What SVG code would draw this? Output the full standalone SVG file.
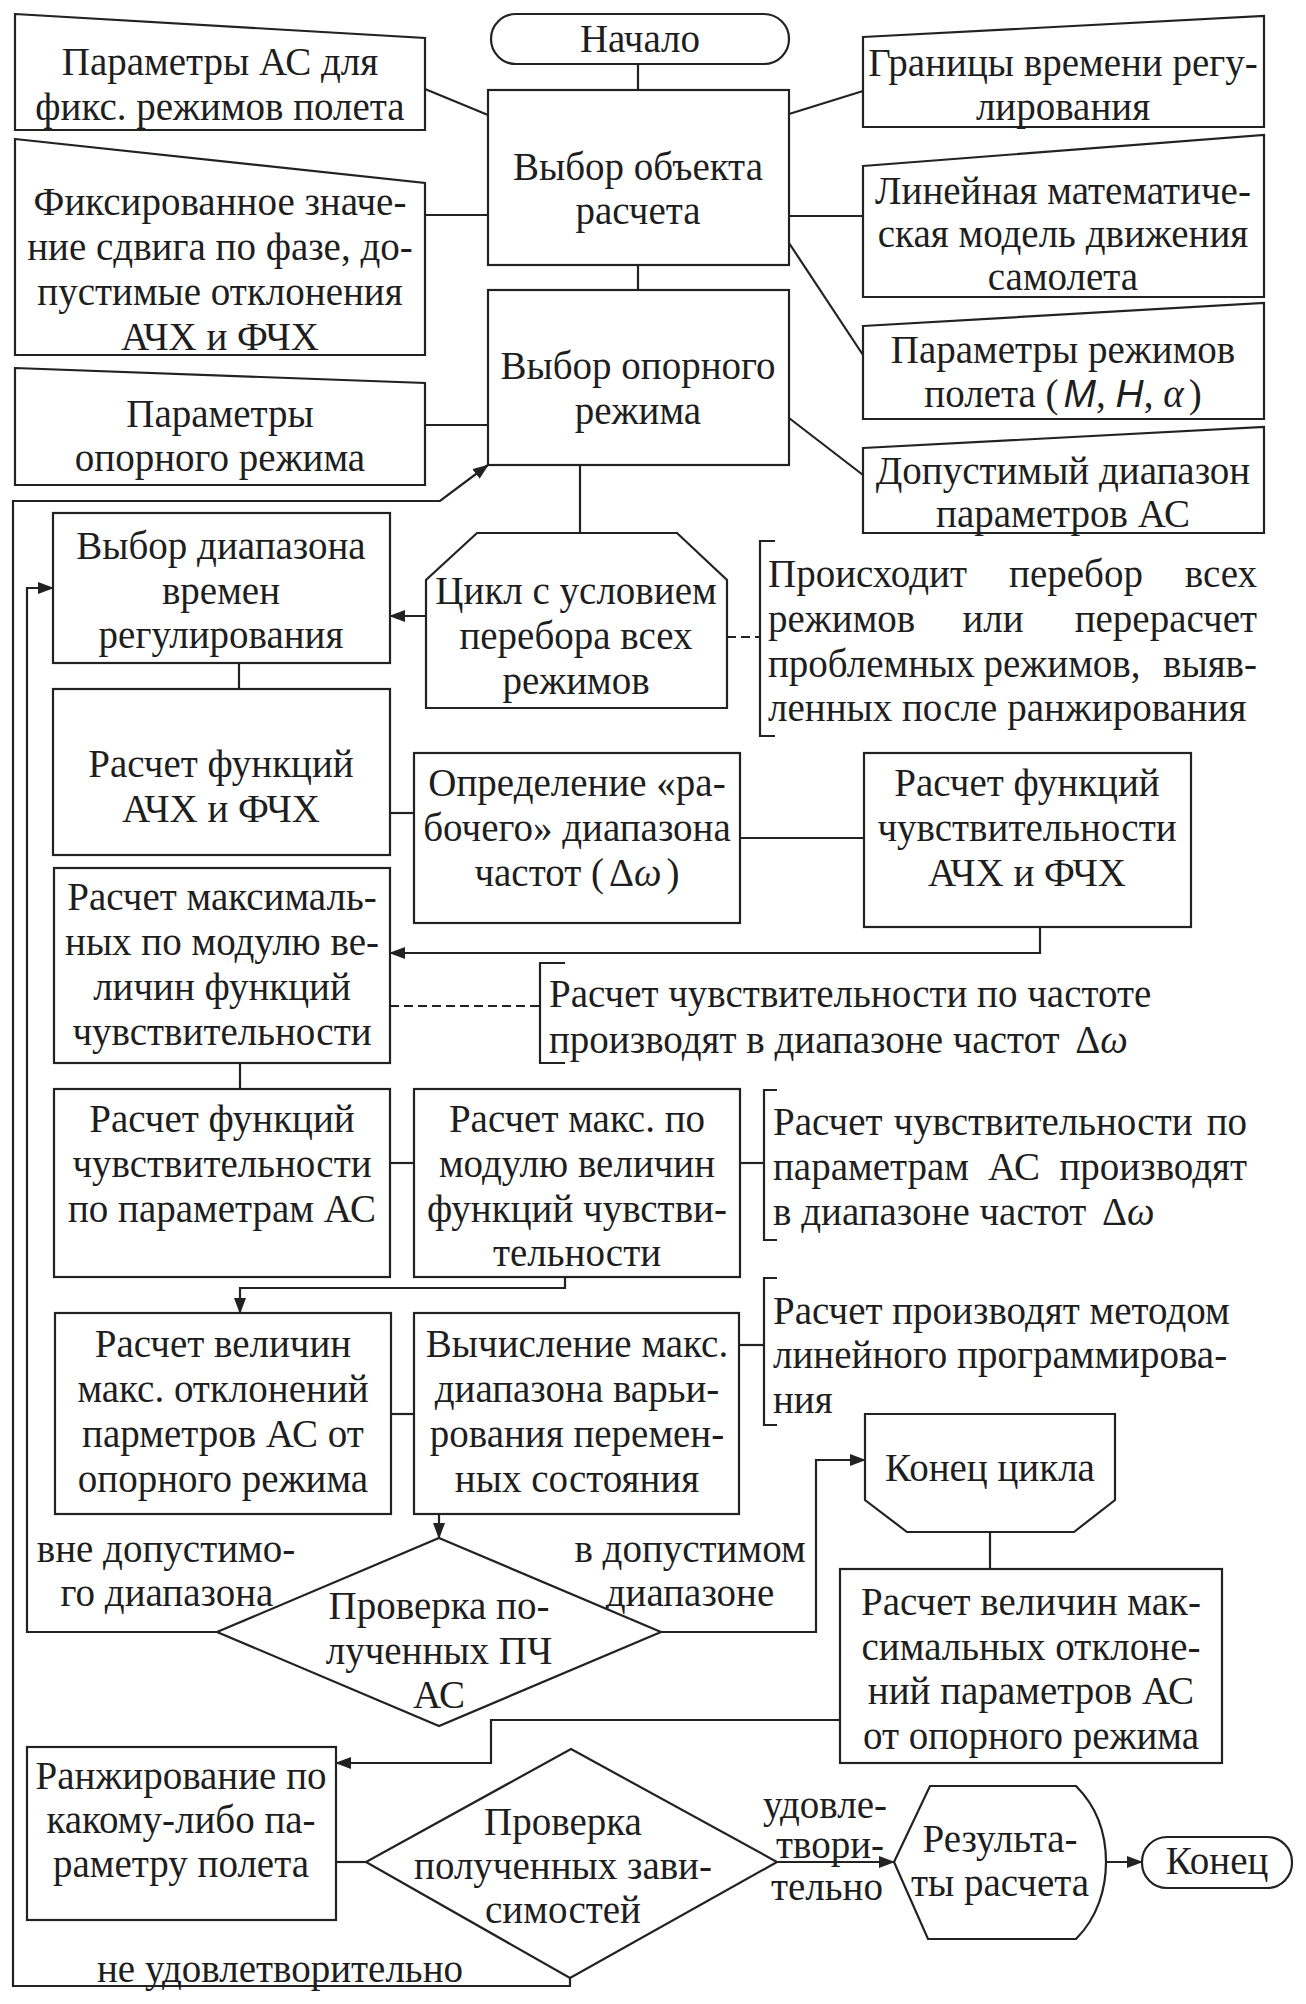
<svg xmlns="http://www.w3.org/2000/svg" width="1306" height="2004" viewBox="0 0 1306 2004">
<defs>
<style>
.t{font-family:"Liberation Serif","Times New Roman",serif;font-size:39px;fill:#1e1e1e;text-anchor:middle;dominant-baseline:central}
.l{text-anchor:start}
.e{text-anchor:end}
.s{fill:#fff;stroke:#222;stroke-width:2.2}
.c{fill:none;stroke:#222;stroke-width:2.2}
.d{fill:none;stroke:#222;stroke-width:2.2;stroke-dasharray:9 5}
.i{font-style:italic}
.m{font-family:"Liberation Sans","DejaVu Sans",sans-serif;font-style:italic}
</style>
<marker id="a" markerWidth="16" markerHeight="12" refX="15" refY="6" orient="auto" markerUnits="userSpaceOnUse">
<path d="M0,0 L16,6 L0,12 Z" fill="#222"/>
</marker>
</defs>
<rect width="1306" height="2004" fill="#fff"/>

<g id="connectors">
<path class="c" d="M638,64 V90"/>
<path class="c" d="M638,265 V290"/>
<path class="c" d="M425,89 L488,115"/>
<path class="c" d="M425,215 H488"/>
<path class="c" d="M425,425 H488"/>
<path class="c" d="M789,114 L863,91"/>
<path class="c" d="M789,216 H863"/>
<path class="c" d="M789,243 L863,355"/>
<path class="c" d="M789,418 L863,475"/>
<path class="c" d="M580,465 V533"/>
<path class="c" d="M426,616 H390" marker-end="url(#a)"/>
<path class="d" d="M727,637 H760"/>
<path class="c" d="M239,663 V689"/>
<path class="c" d="M390,813 H414"/>
<path class="c" d="M740,838 H864"/>
<path class="c" d="M1040,927 V953 H390" marker-end="url(#a)"/>
<path class="d" d="M390,1006 H540"/>
<path class="c" d="M240,1063 V1089"/>
<path class="c" d="M390,1163 H414"/>
<path class="c" d="M740,1163 H764"/>
<path class="c" d="M565,1277 V1288 H240 V1313" marker-end="url(#a)"/>
<path class="c" d="M391,1414 H414"/>
<path class="c" d="M739,1345 H764"/>
<path class="c" d="M439,1514 V1538" marker-end="url(#a)"/>
<path class="c" d="M217,1632 H27 V588 H53" marker-end="url(#a)"/>
<path class="c" d="M661,1632 H816 V1460 H865" marker-end="url(#a)"/>
<path class="c" d="M990,1532 V1569"/>
<path class="c" d="M840,1720 H491 V1763 H336" marker-end="url(#a)"/>
<path class="c" d="M336,1862 H366"/>
<path class="c" d="M777,1862 H894" marker-end="url(#a)"/>
<path class="c" d="M1104,1862 H1142" marker-end="url(#a)"/>
<path class="c" d="M570,1978 V1986 H13 V501 H440 L488,465" marker-end="url(#a)"/>
<text class="t" x="166" y="1548">вне допустимо-</text>
<text class="t" x="167" y="1592">го диапазона</text>
<text class="t" x="690" y="1548">в допустимом</text>
<text class="t" x="690" y="1592">диапазоне</text>
<text class="t" x="280" y="1968">не удовлетворительно</text>
<text class="t" x="825" y="1804">удовле-</text>
<text class="t" x="830" y="1844">твори-</text>
<text class="t" x="827" y="1886">тельно</text>
</g>

<g id="start">
<rect class="s" x="491" y="14" width="298" height="50" rx="25"/>
<text class="t" x="640" y="38">Начало</text>
</g>

<g id="in-params-fixed">
<path class="s" d="M15,14 L425,38 V130 H15 Z"/>
<text class="t" x="220" y="61">Параметры АС для</text>
<text class="t" x="220" y="106">фикс. режимов полета</text>
</g>
<g id="in-phase">
<path class="s" d="M15,139 L425,183 V355 H15 Z"/>
<text class="t" x="220" y="201">Фиксированное значе-</text>
<text class="t" x="220" y="246">ние сдвига по фазе, до-</text>
<text class="t" x="220" y="291">пустимые отклонения</text>
<text class="t" x="220" y="336">АЧХ и ФЧХ</text>
</g>
<g id="in-ref">
<path class="s" d="M15,368 L425,383 V485 H15 Z"/>
<text class="t" x="220" y="413">Параметры</text>
<text class="t" x="220" y="457">опорного режима</text>
</g>

<g id="choose-object">
<rect class="s" x="488" y="90" width="301" height="175"/>
<text class="t" x="638" y="166">Выбор объекта</text>
<text class="t" x="638" y="210">расчета</text>
</g>
<g id="choose-ref">
<rect class="s" x="488" y="290" width="301" height="175"/>
<text class="t" x="638" y="365">Выбор опорного</text>
<text class="t" x="638" y="410">режима</text>
</g>

<g id="in-time">
<path class="s" d="M863,37 L1264,16 V127 H863 Z"/>
<text class="t" x="1063" y="62">Границы времени регу-</text>
<text class="t" x="1063" y="106">лирования</text>
</g>
<g id="in-model">
<path class="s" d="M863,166 L1264,135 V297 H863 Z"/>
<text class="t" x="1063" y="190">Линейная математиче-</text>
<text class="t" x="1063" y="233">ская модель движения</text>
<text class="t" x="1063" y="276">самолета</text>
</g>
<g id="in-modes">
<path class="s" d="M863,326 L1264,303 V419 H863 Z"/>
<text class="t" x="1063" y="349">Параметры режимов</text>
<text class="t" x="1063" y="393">полета (<tspan class="m" dx="5">M</tspan>, <tspan class="m">H</tspan>, <tspan class="i">α</tspan><tspan dx="5">)</tspan></text>
</g>
<g id="in-range">
<path class="s" d="M863,448 L1264,427 V533 H863 Z"/>
<text class="t" x="1063" y="470">Допустимый диапазон</text>
<text class="t" x="1063" y="513">параметров АС</text>
</g>

<g id="loop-start">
<path class="s" d="M477,533 H677 L727,580 V708 H426 V580 Z"/>
<text class="t" x="576" y="590">Цикл с условием</text>
<text class="t" x="576" y="635">перебора всех</text>
<text class="t" x="576" y="680">режимов</text>
</g>
<g id="note-loop">
<path class="c" d="M775,541 H760 V736 H775"/>
<text class="t l" x="768" y="573">Происходит</text>
<text class="t" x="1076" y="573">перебор</text>
<text class="t e" x="1257" y="573">всех</text>
<text class="t l" x="768" y="618">режимов</text>
<text class="t" x="993" y="618">или</text>
<text class="t e" x="1257" y="618">перерасчет</text>
<text class="t l" x="768" y="663">проблемных</text>
<text class="t" x="1062" y="663">режимов,</text>
<text class="t e" x="1257" y="663">выяв-</text>
<text class="t l" x="768" y="707">ленных после ранжирования</text>
</g>

<g id="choose-time-range">
<rect class="s" x="53" y="513" width="337" height="150"/>
<text class="t" x="221" y="545">Выбор диапазона</text>
<text class="t" x="221" y="590">времен</text>
<text class="t" x="221" y="634">регулирования</text>
</g>
<g id="calc-freq">
<rect class="s" x="53" y="689" width="337" height="166"/>
<text class="t" x="221" y="763">Расчет функций</text>
<text class="t" x="221" y="808">АЧХ и ФЧХ</text>
</g>
<g id="work-range">
<rect class="s" x="414" y="753" width="326" height="170"/>
<text class="t" x="577" y="782">Определение «ра-</text>
<text class="t" x="577" y="827">бочего» диапазона</text>
<text class="t" x="577" y="872">частот (<tspan dx="5">Δ</tspan><tspan class="i">ω</tspan><tspan dx="5">)</tspan></text>
</g>
<g id="calc-sens">
<rect class="s" x="864" y="753" width="327" height="174"/>
<text class="t" x="1027" y="782">Расчет функций</text>
<text class="t" x="1027" y="827">чувствительности</text>
<text class="t" x="1027" y="872">АЧХ и ФЧХ</text>
</g>
<g id="calc-max-sens">
<rect class="s" x="54" y="868" width="336" height="195"/>
<text class="t" x="222" y="896">Расчет максималь-</text>
<text class="t" x="222" y="941">ных по модулю ве-</text>
<text class="t" x="222" y="986">личин функций</text>
<text class="t" x="222" y="1031">чувствительности</text>
</g>
<g id="note-freq">
<path class="c" d="M565,963 H540 V1063 H565"/>
<text class="t l" x="549" y="993">Расчет чувствительности по частоте</text>
<text class="t l" x="549" y="1039">производят в диапазоне частот <tspan dx="6">Δ</tspan><tspan class="i">ω</tspan></text>
</g>
<g id="calc-sens-params">
<rect class="s" x="54" y="1089" width="336" height="188"/>
<text class="t" x="222" y="1118">Расчет функций</text>
<text class="t" x="222" y="1163">чувствительности</text>
<text class="t" x="222" y="1208">по параметрам АС</text>
</g>
<g id="calc-max-mod">
<rect class="s" x="414" y="1089" width="326" height="188"/>
<text class="t" x="577" y="1118">Расчет макс. по</text>
<text class="t" x="577" y="1163">модулю величин</text>
<text class="t" x="577" y="1208">функций чувстви-</text>
<text class="t" x="577" y="1252">тельности</text>
</g>
<g id="note-params">
<path class="c" d="M777,1090 H764 V1240 H777"/>
<text class="t l" x="773" y="1121">Расчет</text>
<text class="t" x="1043" y="1121">чувствительности</text>
<text class="t e" x="1247" y="1121">по</text>
<text class="t l" x="773" y="1166">параметрам</text>
<text class="t" x="1014" y="1166">АС</text>
<text class="t e" x="1247" y="1166">производят</text>
<text class="t l" x="773" y="1211">в диапазоне частот <tspan dx="6">Δ</tspan><tspan class="i">ω</tspan></text>
</g>
<g id="calc-dev">
<rect class="s" x="55" y="1313" width="336" height="201"/>
<text class="t" x="223" y="1343">Расчет величин</text>
<text class="t" x="223" y="1388">макс. отклонений</text>
<text class="t" x="223" y="1433">парметров АС от</text>
<text class="t" x="223" y="1478">опорного режима</text>
</g>
<g id="calc-var">
<rect class="s" x="414" y="1313" width="325" height="201"/>
<text class="t" x="577" y="1343">Вычисление макс.</text>
<text class="t" x="577" y="1388">диапазона варьи-</text>
<text class="t" x="577" y="1433">рования перемен-</text>
<text class="t" x="577" y="1478">ных состояния</text>
</g>
<g id="note-lp">
<path class="c" d="M777,1278 H764 V1425 H777"/>
<text class="t l" x="773" y="1310">Расчет производят методом</text>
<text class="t l" x="773" y="1354">линейного программирова-</text>
<text class="t l" x="773" y="1399">ния</text>
</g>
<g id="check-pch">
<path class="s" d="M439,1538 L661,1632 L439,1726 L217,1632 Z"/>
<text class="t" x="439" y="1605">Проверка по-</text>
<text class="t" x="439" y="1650">лученных ПЧ</text>
<text class="t" x="439" y="1694">АС</text>
</g>
<g id="loop-end">
<path class="s" d="M865,1414 H1115 V1500 L1074,1532 H907 L865,1500 Z"/>
<text class="t" x="990" y="1467">Конец цикла</text>
</g>
<g id="calc-max-dev">
<rect class="s" x="840" y="1569" width="382" height="194"/>
<text class="t" x="1031" y="1601">Расчет величин мак-</text>
<text class="t" x="1031" y="1646">симальных отклоне-</text>
<text class="t" x="1031" y="1690">ний параметров АС</text>
<text class="t" x="1031" y="1735">от опорного режима</text>
</g>
<g id="ranking">
<rect class="s" x="27" y="1747" width="309" height="173"/>
<text class="t" x="181" y="1775">Ранжирование по</text>
<text class="t" x="181" y="1819">какому-либо па-</text>
<text class="t" x="181" y="1863">раметру полета</text>
</g>
<g id="check-deps">
<path class="s" d="M571,1749 L777,1862 L570,1978 L366,1862 Z"/>
<text class="t" x="563" y="1821">Проверка</text>
<text class="t" x="563" y="1865">полученных зави-</text>
<text class="t" x="563" y="1909">симостей</text>
</g>
<g id="results">
<path class="s" d="M930,1786 H1076 C1098,1808 1106,1836 1106,1862 C1106,1888 1098,1917 1076,1939 H928 L894,1862 Z"/>
<text class="t" x="1000" y="1838">Результа-</text>
<text class="t" x="1000" y="1882">ты расчета</text>
</g>
<g id="end">
<rect class="s" x="1142" y="1837" width="150" height="51" rx="25"/>
<text class="t" x="1217" y="1860">Конец</text>
</g>
</svg>
